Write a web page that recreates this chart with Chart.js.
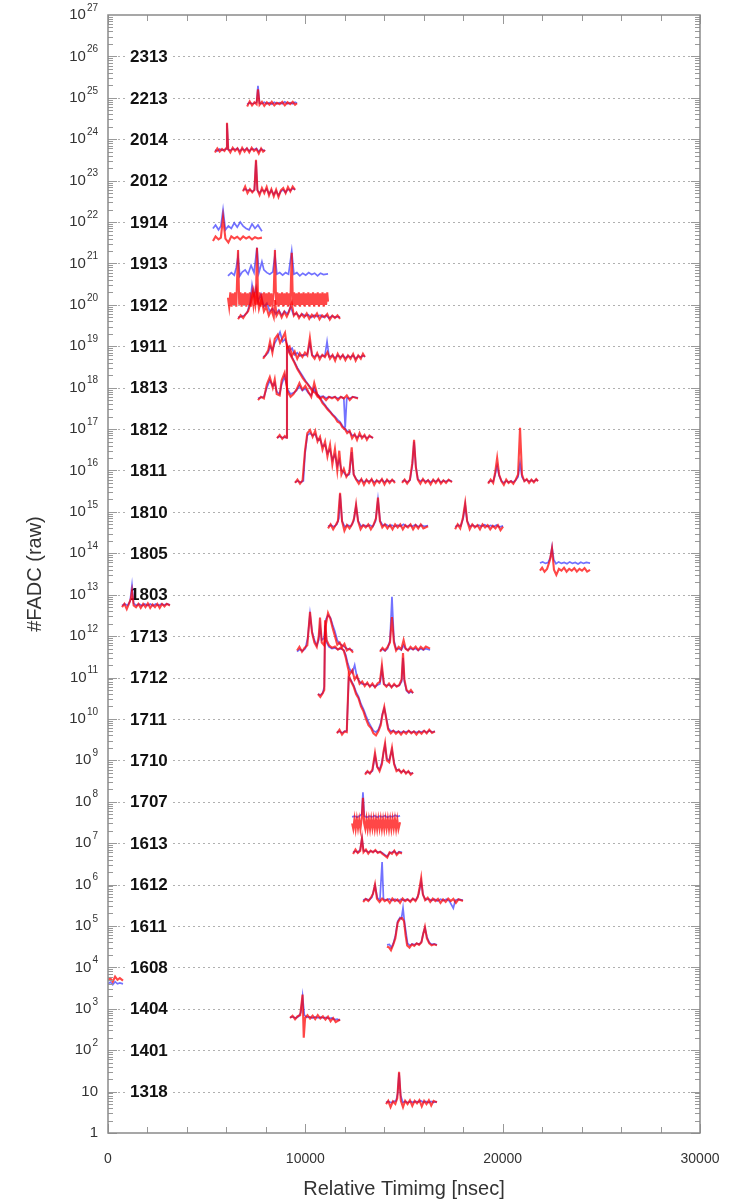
<!DOCTYPE html>
<html>
<head>
<meta charset="utf-8">
<title>FADC traces</title>
<script src="https://cdn.jsdelivr.net/npm/chart.js@4.4.0/dist/chart.umd.min.js"></script>
<style>
  html, body { margin: 0; padding: 0; background: #fff; }
  canvas { display: block; }
</style>
</head>
<body>
<canvas id="grafica" width="733" height="1203"></canvas>
<script>
// ── Datos ────────────────────────────────────────────────
const detectors = ['2313','2213','2014','2012','1914','1913','1912','1911','1813','1812','1811','1810','1805',
                   '1803','1713','1712','1711','1710','1707','1613','1612','1611','1608','1404','1401','1318'];
const decades   = [26,25,24,23,22,21,20,19,18,17,16,15,14,13,12,11,10,9,8,7,6,5,4,3,2,1];
const yPowers   = [0,1,2,3,4,5,6,7,8,9,10,11,12,13,14,15,16,17,18,19,20,21,22,23,24,25,26,27];
const xTicks    = [0,10000,20000,30000];

// each trace: [time ns, FADC / 10^decade of its detector]; null = gap
const red2213 = [[7050,0.62],[7180,0.82],[7300,0.66],[7420,0.78],[7530,0.7],[7600,1.6],[7680,0.68],[7800,0.8],[7920,0.64],[8050,0.78],[8180,0.68],[8300,0.8],[8430,0.66],[8560,0.76],[8700,0.7],[8830,0.8],[8960,0.66],[9100,0.78],[9230,0.7],[9360,0.8],[9480,0.68],[9580,0.74]];
const blue2213 = [[7050,0.7],[7180,0.76],[7300,0.72],[7420,0.74],[7530,0.78],[7600,1.95],[7680,0.74],[7800,0.72],[7920,0.78],[8050,0.72],[8180,0.76],[8300,0.7],[8430,0.78],[8560,0.72],[8700,0.76],[8830,0.72],[8960,0.8],[9100,0.72],[9230,0.76],[9360,0.72],[9480,0.78],[9580,0.74]];

const red2014 = [[5420,0.48],[5540,0.6],[5660,0.5],[5780,0.58],[5900,0.52],[5980,0.6],[6030,2.5],[6090,0.58],[6200,0.48],[6320,0.62],[6440,0.52],[6560,0.6],[6680,0.46],[6800,0.62],[6920,0.5],[7040,0.6],[7160,0.48],[7280,0.62],[7400,0.52],[7520,0.58],[7640,0.45],[7760,0.6],[7860,0.5],[7960,0.55]];
const blue2014 = [[5420,0.55],[5540,0.52],[5660,0.58],[5780,0.54],[5900,0.56],[5980,0.58],[6030,2.4],[6090,0.56],[6200,0.54],[6320,0.58],[6440,0.56],[6560,0.6],[6680,0.52],[6800,0.58],[6920,0.55],[7040,0.6],[7160,0.52],[7280,0.58],[7400,0.56],[7520,0.6],[7640,0.5],[7760,0.58],[7860,0.55],[7960,0.52]];

const red2012 = [[6840,0.55],[6950,0.72],[7070,0.5],[7190,0.62],[7310,0.52],[7420,0.6],[7500,3.2],[7570,0.6],[7680,0.45],[7800,0.66],[7920,0.5],[8040,0.7],[8160,0.44],[8280,0.62],[8400,0.42],[8520,0.6],[8640,0.4],[8760,0.58],[8880,0.66],[9000,0.5],[9120,0.7],[9240,0.55],[9360,0.72],[9480,0.6]];
const blue2012 = [[6840,0.6],[6950,0.62],[7070,0.58],[7190,0.6],[7310,0.55],[7420,0.6],[7500,3.0],[7570,0.58],[7680,0.5],[7800,0.6],[7920,0.55],[8040,0.62],[8160,0.48],[8280,0.58],[8400,0.46],[8520,0.56],[8640,0.44],[8760,0.55],[8880,0.6],[9000,0.52],[9120,0.62],[9240,0.58],[9360,0.65],[9480,0.6]];

const red1914 = [[5320,0.35],[5450,0.45],[5600,0.38],[5720,0.42],[5830,1.3],[5950,0.4],[6100,0.32],[6250,0.45],[6400,0.4],[6550,0.44],[6700,0.38],[6850,0.45],[7000,0.4],[7150,0.44],[7300,0.38],[7450,0.43],[7600,0.4],[7800,0.42]];
const blue1914 = [[5320,0.7],[5450,0.85],[5600,0.65],[5720,0.8],[5830,1.97],[5950,0.65],[6100,0.8],[6250,0.7],[6400,0.95],[6550,0.75],[6700,1.0],[6850,0.8],[7000,0.7],[7150,0.65],[7300,0.9],[7450,0.7],[7600,0.85],[7800,0.6]];

const red1913 = [[6080,0.15],[6140,0.09],[6200,0.2],[6260,0.09],[6320,0.19],[6380,0.1],[6440,0.2],[6500,0.09],[6590,2.1],[6650,0.1],[6710,0.2],[6770,0.09],[6830,0.19],[6890,0.1],[6950,0.2],[7010,0.09],[7070,0.19],[7130,0.1],[7190,0.2],[7250,0.09],[7310,0.18],[7370,0.1],[7430,0.2],[7490,0.1],[7550,2.4],[7610,0.1],[7670,0.2],[7730,0.09],[7790,0.19],[7850,0.1],[7910,0.2],[7970,0.09],[8030,0.19],[8090,0.1],[8150,0.2],[8210,0.09],[8270,0.19],[8330,0.1],[8400,0.2],[8460,2.1],[8520,0.1],[8580,0.2],[8640,0.09],[8700,0.19],[8760,0.1],[8820,0.2],[8880,0.09],[8940,0.19],[9000,0.1],[9060,0.2],[9120,0.09],[9180,0.19],[9240,0.1],[9310,1.8],[9370,0.1],[9430,0.2],[9490,0.09],[9550,0.19],[9610,0.1],[9670,0.2],[9730,0.09],[9790,0.19],[9850,0.1],[9910,0.2],[9970,0.09],[10030,0.19],[10090,0.1],[10150,0.2],[10210,0.09],[10270,0.19],[10330,0.1],[10390,0.2],[10450,0.09],[10510,0.19],[10570,0.1],[10630,0.2],[10690,0.09],[10750,0.19],[10810,0.1],[10870,0.2],[10930,0.09],[10990,0.19],[11050,0.1],[11110,0.2],[11150,0.12]];
const blue1913 = [[6080,0.5],[6250,0.6],[6400,0.52],[6500,0.8],[6590,1.5],[6680,0.5],[6800,0.62],[6950,0.7],[7100,0.55],[7250,0.9],[7400,0.6],[7550,2.4],[7650,0.6],[7800,1.1],[7900,0.7],[8050,0.6],[8200,0.55],[8350,0.62],[8460,1.6],[8560,0.55],[8700,0.6],[8850,0.52],[9000,0.6],[9150,0.55],[9310,2.0],[9420,0.55],[9570,0.6],[9720,0.5],[9870,0.58],[10020,0.52],[10170,0.6],[10320,0.54],[10470,0.58],[10620,0.5],[10770,0.58],[10920,0.54],[11150,0.56]];

const red1912 = [[6590,0.45],[6720,0.56],[6850,0.48],[6980,0.6],[7100,0.7],[7250,1.2],[7380,2.2],[7470,1.0],[7550,2.0],[7650,0.8],[7780,1.4],[7900,0.7],[8020,0.9],[8150,0.55],[8280,0.75],[8400,0.5],[8460,1.3],[8540,0.55],[8670,0.7],[8800,0.5],[8930,0.68],[9060,0.52],[9180,0.7],[9310,1.1],[9420,0.55],[9550,0.65],[9680,0.48],[9810,0.6],[9940,0.5],[10070,0.62],[10200,0.46],[10330,0.58],[10460,0.5],[10590,0.62],[10720,0.45],[10850,0.56],[10980,0.5],[11110,0.6],[11240,0.44],[11370,0.55],[11500,0.48],[11630,0.56],[11760,0.46]];
const blue1912 = [[6590,0.5],[6750,0.52],[6900,0.55],[7050,0.65],[7200,1.1],[7300,3.0],[7400,1.6],[7500,2.6],[7600,1.2],[7750,1.8],[7900,0.9],[8050,1.1],[8200,0.7],[8350,0.8],[8500,0.6],[8650,0.75],[8800,0.56],[8950,0.7],[9100,0.6],[9250,0.9],[9400,0.58],[9550,0.62],[9700,0.52],[9850,0.6],[10000,0.54],[10150,0.58],[10300,0.5],[10450,0.56],[10600,0.52],[10750,0.56],[10900,0.5],[11050,0.56],[11200,0.48],[11350,0.54],[11500,0.5],[11650,0.52],[11760,0.5]];

const red1911 = [[7860,0.5],[7990,0.62],[8120,0.8],[8210,1.3],[8330,0.7],[8450,1.5],[8600,1.9],[8720,1.2],[8850,1.6],[8970,2.1],[9080,0.9],[9200,1.0],[9330,0.6],[9460,0.75],[9590,0.5],[9720,0.68],[9850,0.55],[9980,0.7],[10100,0.6],[10230,1.6],[10340,0.6],[10470,0.5],[10600,0.68],[10730,0.48],[10860,0.62],[10990,0.55],[11120,0.72],[11250,0.5],[11380,0.62],[11510,0.45],[11640,0.66],[11770,0.5],[11900,0.62],[12030,0.46],[12160,0.6],[12290,0.5],[12420,0.65],[12550,0.45],[12680,0.6],[12810,0.5],[12920,0.66],[13020,0.55]];
const blue1911 = [[7860,0.55],[7990,0.6],[8120,0.7],[8210,1.0],[8330,0.8],[8450,1.2],[8600,1.6],[8717,2.2],[8850,1.3],[8970,1.5],[9080,1.1],[9200,0.8],[9330,0.9],[9460,0.62],[9590,0.7],[9720,0.58],[9850,0.62],[9980,0.6],[10100,0.65],[10230,1.2],[10340,0.62],[10470,0.56],[10600,0.62],[10730,0.55],[10860,0.6],[10990,0.58],[11100,1.3],[11200,0.56],[11380,0.6],[11510,0.52],[11640,0.6],[11770,0.55],[11900,0.6],[12030,0.52],[12160,0.58],[12290,0.55],[12420,0.6],[12550,0.5],[12680,0.58],[12810,0.55],[12920,0.6],[13020,0.56]];

const red1813 = [[7600,0.5],[7750,0.6],[7900,0.55],[8050,1.2],[8200,1.8],[8350,1.0],[8450,1.6],[8550,0.7],[8700,0.65],[8800,1.5],[8950,2.3],[9100,0.8],[9250,0.6],[9400,0.7],[9550,0.9],[9700,1.3],[9850,0.9],[10000,1.1],[10150,0.8],[10300,0.6],[10450,1.3],[10600,0.7],[10750,0.55],[10900,0.6],[11050,0.5],[11200,0.6],[11350,0.55],[11500,0.6],[11650,0.5],[11800,0.6],[11950,0.55],[12100,0.65],[12250,0.5],[12400,0.6],[12670,0.55]];
const blue1813 = [[7600,0.55],[7750,0.58],[7900,0.6],[8050,1.0],[8200,1.5],[8350,1.1],[8450,1.3],[8550,0.8],[8700,0.7],[8800,1.2],[8950,1.9],[9100,0.9],[9250,0.7],[9400,0.75],[9550,0.85],[9700,1.1],[9850,0.85],[10000,0.95],[10150,0.75],[10300,0.65],[10450,1.0],[10600,0.7],[10750,0.6],[10900,0.62],[11050,0.56],[11200,0.6],[11350,0.58],[11500,0.6],[11650,0.55],[11800,0.6],[11950,0.56],[12020,0.11],[12100,0.56],[12250,0.55],[12400,0.6],[12670,0.57]];

const red1812 = [[8565,0.6],[8700,0.72],[8830,0.58],[8960,0.68],[9040,0.62],[9070,100],[9180,70],[9300,55],[9450,40],[9600,28],[9731,22],[9870,17],[10000,14],[10120,12],[10237,10],[10370,8],[10500,7.5],[10620,6],[10744,5.5],[10870,4.2],[11000,3.6],[11120,3.0],[11251,2.6],[11370,2.2],[11500,1.9],[11630,1.5],[11758,1.4],[11880,1.1],[12000,1.0],[12120,0.8],[12250,0.9],[12370,0.6],[12500,0.75],[12620,0.55],[12750,0.8],[12870,0.6],[13000,0.72],[13120,0.55],[13250,0.7],[13430,0.6]];
const blue1812 = [[8565,0.62],[8700,0.66],[8830,0.62],[8960,0.64],[9040,0.62],[9070,90],[9180,75],[9300,58],[9450,42],[9600,30],[9731,24],[9870,19],[10000,15],[10120,12.5],[10237,10.5],[10370,9],[10500,8],[10620,6.5],[10744,5.8],[10870,4.6],[11000,3.8],[11120,3.2],[11251,2.7],[11370,2.3],[11500,2.0],[11630,1.7],[11758,1.5],[11880,1.2],[12000,1.05],[12120,0.9],[12250,0.85],[12370,0.7],[12500,0.72],[12620,0.62],[12750,0.7],[12870,0.65],[13000,0.68],[13120,0.6],[13250,0.66],[13430,0.62]];

const red1811 = [[9477,0.5],[9600,0.6],[9730,0.48],[9860,0.58],[9984,3],[10100,8],[10237,9.5],[10370,6.5],[10500,9],[10620,5],[10744,6.5],[10870,3.2],[11000,5],[11120,2.2],[11251,4.2],[11370,1.4],[11500,3.3],[11620,1.0],[11720,3.0],[11830,0.8],[11950,1.1],[12080,0.7],[12230,0.9],[12350,3.6],[12450,0.8],[12580,0.6],[12710,0.48],[12840,0.62],[12970,0.45],[13100,0.6],[13230,0.5],[13360,0.62],[13490,0.45],[13620,0.58],[13750,0.5],[13880,0.62],[14010,0.46],[14140,0.6],[14270,0.5],[14400,0.6],[14545,0.5],[14700,null],[14900,0.5],[15030,0.6],[15160,0.48],[15300,0.6],[15420,1.5],[15510,5.5],[15600,1.2],[15700,0.6],[15830,0.48],[15960,0.62],[16090,0.5],[16220,0.58],[16350,0.46],[16480,0.6],[16610,0.5],[16740,0.62],[16870,0.48],[17000,0.58],[17130,0.5],[17260,0.6],[17434,0.52],[18500,null],[19260,0.48],[19390,0.6],[19520,0.5],[19620,0.9],[19720,2.0],[19820,0.8],[19940,0.55],[20060,0.45],[20180,0.6],[20300,0.5],[20420,0.55],[20540,0.48],[20660,0.6],[20780,0.8],[20880,10.7],[20980,0.8],[21100,0.55],[21220,0.62],[21340,0.5],[21460,0.6],[21580,0.52],[21700,0.62],[21790,0.55]];
const blue1811 = [[9477,0.52],[9620,0.56],[9760,0.52],[9900,0.56],[9984,2.5],[10100,7],[10237,8],[10370,7],[10500,7.5],[10620,5.5],[10744,5.8],[10870,3.8],[11000,4.2],[11120,2.6],[11251,3.2],[11370,1.8],[11500,2.4],[11620,1.3],[11720,1.8],[11830,1.0],[11950,0.9],[12080,0.75],[12230,0.8],[12350,2.8],[12450,0.8],[12580,0.62],[12710,0.55],[12840,0.6],[12970,0.52],[13100,0.58],[13230,0.54],[13360,0.6],[13490,0.52],[13620,0.57],[13750,0.54],[13880,0.6],[14010,0.52],[14140,0.58],[14270,0.54],[14400,0.58],[14545,0.54],[14700,null],[14900,0.54],[15030,0.58],[15160,0.52],[15300,0.58],[15420,1.3],[15510,5.0],[15600,1.3],[15700,0.62],[15830,0.55],[15960,0.6],[16090,0.54],[16220,0.58],[16350,0.52],[16480,0.58],[16610,0.54],[16740,0.6],[16870,0.52],[17000,0.57],[17130,0.54],[17260,0.58],[17434,0.55],[18500,null],[19260,0.52],[19390,0.56],[19520,0.54],[19620,0.8],[19720,1.3],[19820,0.75],[19940,0.56],[20060,0.5],[20180,0.56],[20300,0.52],[20420,0.56],[20540,0.52],[20660,0.58],[20780,0.7],[20880,1.5],[20980,0.7],[21100,0.56],[21220,0.6],[21340,0.54],[21460,0.58],[21580,0.54],[21700,0.6],[21790,0.56]];

const red1810 = [[11150,0.4],[11280,0.5],[11410,0.38],[11540,0.48],[11650,0.6],[11760,2.9],[11860,0.6],[11980,0.35],[12110,0.48],[12240,0.4],[12370,0.5],[12470,0.7],[12570,1.5],[12670,0.6],[12800,0.38],[12930,0.48],[13060,0.42],[13190,0.5],[13320,0.38],[13450,0.48],[13580,0.7],[13680,2.2],[13780,0.6],[13900,0.42],[14030,0.5],[14160,0.4],[14290,0.48],[14420,0.38],[14550,0.5],[14680,0.42],[14810,0.5],[14940,0.38],[15070,0.48],[15200,0.42],[15330,0.5],[15460,0.38],[15590,0.48],[15720,0.4],[15850,0.5],[15980,0.4],[16220,0.45],[16900,null],[17590,0.38],[17720,0.5],[17850,0.4],[17980,0.7],[18100,1.65],[18200,0.6],[18330,0.38],[18460,0.5],[18590,0.42],[18720,0.48],[18850,0.38],[18980,0.5],[19110,0.42],[19240,0.48],[19370,0.38],[19500,0.46],[19630,0.4],[19760,0.48],[19890,0.36],[20020,0.44]];
const blue1810 = [[11150,0.45],[11300,0.48],[11450,0.44],[11600,0.5],[11700,0.7],[11760,2.7],[11860,0.6],[12000,0.44],[12150,0.48],[12300,0.45],[12450,0.6],[12570,1.4],[12680,0.6],[12820,0.45],[12970,0.48],[13120,0.45],[13270,0.48],[13420,0.44],[13560,0.6],[13680,2.0],[13790,0.6],[13930,0.47],[14080,0.5],[14230,0.45],[14380,0.48],[14530,0.44],[14680,0.48],[14830,0.45],[14980,0.5],[15130,0.44],[15280,0.48],[15430,0.45],[15580,0.49],[15730,0.44],[15880,0.48],[16020,0.45],[16220,0.47],[16900,null],[17590,0.44],[17740,0.48],[17880,0.46],[18000,0.7],[18100,1.5],[18200,0.6],[18340,0.45],[18490,0.48],[18640,0.44],[18790,0.48],[18940,0.45],[19090,0.49],[19240,0.44],[19390,0.47],[19540,0.44],[19690,0.48],[19840,0.43],[20020,0.46]];

const red1805 = [[21890,0.38],[22000,0.45],[22120,0.36],[22250,0.42],[22400,0.7],[22500,1.3],[22600,0.4],[22720,0.3],[22850,0.42],[22980,0.38],[23110,0.45],[23240,0.36],[23370,0.42],[23500,0.38],[23630,0.44],[23760,0.36],[23890,0.42],[24020,0.38],[24150,0.44],[24280,0.36],[24430,0.4]];
const blue1805 = [[21890,0.58],[22030,0.62],[22170,0.57],[22300,0.6],[22420,0.8],[22500,1.43],[22590,0.7],[22700,0.56],[22840,0.62],[22980,0.57],[23120,0.6],[23260,0.56],[23400,0.62],[23540,0.57],[23680,0.6],[23820,0.55],[23960,0.61],[24100,0.57],[24240,0.6],[24430,0.58]];

const red1803 = [[710,0.5],[830,0.6],[950,0.45],[1070,0.62],[1160,0.8],[1216,1.2],[1300,0.55],[1420,0.5],[1540,0.6],[1660,0.48],[1780,0.6],[1900,0.5],[2020,0.62],[2140,0.48],[2260,0.58],[2380,0.5],[2500,0.6],[2620,0.48],[2740,0.6],[2860,0.52],[2980,0.6],[3140,0.55]];
const blue1803 = [[710,0.55],[850,0.6],[990,0.55],[1120,0.7],[1216,1.7],[1300,0.62],[1440,0.55],[1580,0.6],[1720,0.54],[1860,0.6],[2000,0.55],[2140,0.6],[2280,0.54],[2420,0.6],[2560,0.55],[2700,0.6],[2840,0.56],[2980,0.6],[3140,0.57]];

const red1713 = [[9580,0.45],[9700,0.55],[9830,0.42],[9960,0.52],[10100,0.6],[10237,3.85],[10340,1.2],[10460,0.7],[10580,0.55],[10680,1.0],[10744,2.8],[10830,0.7],[10950,0.6],[11050,2.0],[11150,3.6],[11270,2.6],[11380,1.6],[11500,1.0],[11620,0.62],[11740,0.7],[11860,0.55],[11980,0.65],[12100,0.45],[12250,0.5],[12420,0.4],[13100,null],[13785,0.42],[13910,0.52],[14040,0.45],[14170,0.55],[14290,0.7],[14390,2.9],[14490,0.7],[14600,0.45],[14730,0.55],[14860,0.48],[14980,0.8],[15080,0.5],[15200,0.45],[15330,0.55],[15460,0.48],[15590,0.56],[15720,0.46],[15850,0.55],[15980,0.48],[16110,0.56],[16320,0.5]];
const blue1713 = [[9580,0.42],[9720,0.48],[9860,0.44],[10000,0.5],[10120,0.9],[10237,3.4],[10340,1.3],[10460,0.8],[10580,0.6],[10680,0.8],[10744,1.8],[10830,0.8],[10950,0.9],[11050,2.6],[11150,3.2],[11270,2.8],[11380,1.9],[11500,1.3],[11620,0.8],[11740,0.65],[11860,0.6],[11980,0.55],[12100,0.5],[12250,0.48],[12420,0.45],[13100,null],[13785,0.45],[13910,0.48],[14040,0.44],[14170,0.5],[14290,0.8],[14390,8.9],[14490,0.8],[14600,0.48],[14730,0.5],[14860,0.46],[14980,0.6],[15080,0.5],[15200,0.46],[15330,0.5],[15460,0.47],[15590,0.5],[15720,0.45],[15850,0.5],[15980,0.46],[16110,0.5],[16320,0.46]];

const red1712 = [[10640,0.4],[10760,0.34],[10880,0.42],[10960,0.5],[11000,24],[11080,8],[11200,6],[11350,5.2],[11500,5.6],[11650,4.7],[11800,5.3],[11950,4.4],[12050,3.0],[12150,1.8],[12250,1.2],[12380,1.5],[12500,0.9],[12620,1.1],[12750,0.7],[12880,0.8],[13010,0.62],[13140,0.75],[13270,0.6],[13400,0.72],[13530,0.58],[13660,0.72],[13780,0.8],[13880,2.0],[13980,0.7],[14110,0.6],[14240,0.72],[14370,0.58],[14500,0.7],[14630,0.6],[14760,0.66],[14880,0.9],[14950,3.9],[15020,0.9],[15130,0.5],[15250,0.44],[15350,0.5],[15460,0.42]];
const blue1712 = [[10640,0.4],[10760,0.38],[10880,0.42],[10960,0.6],[11000,18],[11080,7],[11200,5.5],[11350,5],[11500,5.2],[11650,4.8],[11800,5],[11950,4.6],[12050,3.5],[12150,2.2],[12250,1.6],[12380,1.3],[12500,2.0],[12620,1.0],[12750,0.8],[12880,0.7],[13010,0.68],[13140,0.7],[13270,0.62],[13400,0.66],[13530,0.6],[13660,0.66],[13780,0.7],[13880,1.6],[13980,0.7],[14110,0.64],[14240,0.66],[14370,0.6],[14500,0.66],[14630,0.62],[14760,0.64],[14880,0.8],[14950,3.0],[15020,0.8],[15130,0.48],[15250,0.42],[15350,0.46],[15460,0.42]];

const red1711 = [[11600,0.45],[11730,0.55],[11860,0.42],[11990,0.5],[12100,0.48],[12200,11.5],[12320,8],[12450,6],[12570,4],[12700,3.1],[12820,2],[12950,1.5],[13070,1.0],[13200,0.71],[13330,0.6],[13450,0.45],[13580,0.4],[13700,0.5],[13820,0.7],[13900,1.2],[14000,1.95],[14100,1.0],[14200,0.55],[14330,0.45],[14460,0.52],[14590,0.44],[14720,0.5],[14850,0.42],[14980,0.5],[15110,0.44],[15240,0.52],[15370,0.45],[15500,0.5],[15630,0.42],[15760,0.5],[15890,0.44],[16020,0.52],[16150,0.45],[16280,0.55],[16420,0.46],[16570,0.5]];
const blue1711 = [[11600,0.48],[11730,0.5],[11860,0.46],[11990,0.5],[12100,0.52],[12200,10],[12320,8.5],[12450,6.5],[12570,4.5],[12700,3.4],[12820,2.3],[12950,1.7],[13070,1.2],[13200,0.85],[13330,0.65],[13450,0.52],[13580,0.48],[13700,0.55],[13820,0.8],[13900,1.3],[14000,1.8],[14100,1.1],[14200,0.6],[14330,0.5],[14460,0.52],[14590,0.48],[14720,0.5],[14850,0.47],[14980,0.5],[15110,0.48],[15240,0.51],[15370,0.47],[15500,0.5],[15630,0.47],[15760,0.5],[15890,0.48],[16020,0.51],[16150,0.47],[16280,0.52],[16420,0.48],[16570,0.5]];

const red1710 = [[13025,0.45],[13150,0.55],[13270,0.48],[13400,0.6],[13530,1.5],[13640,0.7],[13760,0.55],[13880,0.8],[13960,1.6],[14040,2.6],[14130,1.0],[14250,0.9],[14390,2.0],[14500,0.8],[14620,0.55],[14740,0.6],[14860,0.5],[14980,0.58],[15100,0.48],[15220,0.55],[15340,0.45],[15460,0.5]];
const blue1710 = [[13025,0.5],[13150,0.52],[13270,0.5],[13400,0.55],[13530,1.3],[13640,0.7],[13760,0.6],[13880,0.9],[13960,1.5],[14040,2.3],[14130,1.1],[14250,1.0],[14390,1.8],[14500,0.85],[14620,0.6],[14740,0.58],[14860,0.52],[14980,0.56],[15100,0.5],[15220,0.53],[15340,0.48],[15460,0.5]];

const red1707 = [[12370,0.3],[12430,0.22],[12490,0.38],[12550,0.22],[12610,0.38],[12670,0.23],[12730,0.37],[12790,0.22],[12860,0.4],[12920,1.24],[12980,0.3],[13040,0.22],[13100,0.38],[13160,0.22],[13220,0.37],[13280,0.22],[13340,0.38],[13400,0.23],[13460,0.38],[13520,0.22],[13580,0.37],[13640,0.22],[13700,0.38],[13760,0.23],[13820,0.38],[13880,0.22],[13940,0.37],[14000,0.22],[14060,0.38],[14120,0.23],[14180,0.38],[14240,0.22],[14300,0.37],[14360,0.22],[14420,0.38],[14480,0.23],[14540,0.38],[14600,0.22],[14660,0.37],[14720,0.22],[14800,0.32]];
const blue1707 = [[12370,0.43],[12500,0.45],[12630,0.42],[12760,0.46],[12860,0.5],[12920,1.7],[12990,0.45],[13120,0.42],[13250,0.45],[13380,0.43],[13510,0.46],[13640,0.42],[13770,0.45],[13900,0.43],[14030,0.46],[14160,0.42],[14290,0.45],[14420,0.43],[14550,0.47],[14680,0.44],[14800,0.46]];

const red1613 = [[12420,0.55],[12540,0.7],[12660,0.58],[12780,0.65],[12870,1.33],[12950,0.6],[13070,0.7],[13190,0.56],[13310,0.66],[13430,0.6],[13550,0.68],[13670,0.58],[13790,0.62],[13910,0.55],[14030,0.5],[14150,0.45],[14270,0.6],[14390,0.55],[14510,0.66],[14630,0.52],[14750,0.6],[14900,0.56]];
const blue1613 = [[12420,0.6],[12540,0.64],[12660,0.6],[12780,0.7],[12870,1.3],[12950,0.65],[13070,0.66],[13190,0.6],[13310,0.64],[13430,0.62],[13550,0.65],[13670,0.6],[13790,0.62],[13910,0.58],[14030,0.52],[14150,0.48],[14270,0.58],[14390,0.6],[14510,0.64],[14630,0.56],[14750,0.62],[14900,0.6]];

const red1612 = [[12930,0.38],[13060,0.45],[13190,0.4],[13320,0.48],[13430,0.6],[13530,1.0],[13630,0.45],[13760,0.38],[13890,0.46],[14020,0.4],[14150,0.44],[14280,0.36],[14410,0.46],[14540,0.4],[14670,0.44],[14800,0.36],[14930,0.46],[15060,0.4],[15190,0.44],[15320,0.38],[15450,0.46],[15580,0.4],[15700,0.5],[15800,0.9],[15870,1.45],[15950,0.6],[16070,0.42],[16200,0.48],[16330,0.38],[16460,0.46],[16590,0.4],[16720,0.45],[16850,0.36],[16980,0.44],[17110,0.38],[17240,0.46],[17370,0.4],[17500,0.45],[17630,0.36],[17760,0.44],[17990,0.4]];
const blue1612 = [[12930,0.42],[13080,0.45],[13230,0.42],[13380,0.5],[13530,0.95],[13650,0.48],[13780,0.42],[13890,3.5],[13960,0.45],[14100,0.42],[14250,0.45],[14400,0.41],[14550,0.44],[14700,0.4],[14850,0.44],[15000,0.41],[15150,0.44],[15300,0.4],[15450,0.45],[15600,0.42],[15750,0.6],[15870,1.2],[15970,0.55],[16100,0.43],[16250,0.45],[16400,0.41],[16550,0.44],[16700,0.4],[16850,0.44],[17000,0.41],[17150,0.44],[17300,0.4],[17500,0.27],[17600,0.42],[17750,0.44],[17990,0.42]];

const red1611 = [[14140,0.32],[14250,0.3],[14340,0.26],[14450,0.35],[14560,0.5],[14680,1.2],[14800,1.5],[14900,1.56],[15000,1.3],[15080,0.6],[15160,0.34],[15280,0.3],[15400,0.36],[15520,0.33],[15640,0.38],[15760,0.35],[15880,0.4],[15960,0.6],[16060,0.95],[16160,0.5],[16280,0.38],[16400,0.34],[16530,0.36],[16670,0.34]];
const blue1611 = [[14140,0.35],[14260,0.36],[14360,0.3],[14460,0.38],[14570,0.6],[14680,1.3],[14800,1.6],[14870,1.5],[14950,2.7],[15020,1.3],[15100,0.7],[15180,0.38],[15300,0.34],[15420,0.37],[15540,0.35],[15660,0.38],[15780,0.36],[15890,0.42],[15970,0.65],[16060,0.9],[16160,0.55],[16280,0.4],[16400,0.36],[16530,0.37],[16670,0.35]];

const red1608 = [[0,0.5],[120,0.55],[240,0.45],[360,0.6],[480,0.5],[600,0.55],[760,0.48]];
const blue1608 = [[0,0.4],[120,0.44],[240,0.38],[360,0.45],[480,0.4],[600,0.42],[760,0.4]];

const red1404 = [[9224,0.6],[9350,0.68],[9480,0.56],[9610,0.66],[9740,0.7],[9860,2.2],[9920,0.2],[9990,0.6],[10110,0.7],[10240,0.58],[10370,0.68],[10500,0.56],[10630,0.7],[10760,0.58],[10890,0.66],[11020,0.55],[11150,0.65],[11280,0.5],[11410,0.6],[11540,0.48],[11760,0.55]];
const blue1404 = [[9224,0.62],[9370,0.64],[9510,0.6],[9650,0.65],[9770,0.8],[9860,2.0],[9950,0.7],[10080,0.62],[10220,0.64],[10360,0.6],[10500,0.64],[10640,0.6],[10780,0.63],[10920,0.6],[11060,0.62],[11200,0.58],[11340,0.6],[11480,0.55],[11620,0.56],[11760,0.52]];

const red1318 = [[14090,0.5],[14200,0.6],[14320,0.42],[14440,0.58],[14560,0.5],[14660,0.7],[14750,3.0],[14840,0.6],[14950,0.42],[15060,0.6],[15180,0.5],[15300,0.62],[15420,0.45],[15540,0.6],[15660,0.52],[15780,0.62],[15900,0.44],[16020,0.6],[16140,0.5],[16260,0.62],[16380,0.46],[16500,0.6],[16670,0.55]];
const blue1318 = [[14090,0.55],[14220,0.58],[14350,0.54],[14480,0.58],[14600,0.6],[14680,0.9],[14750,2.8],[14830,0.8],[14940,0.55],[15070,0.58],[15200,0.54],[15330,0.58],[15460,0.55],[15590,0.58],[15720,0.56],[15850,0.6],[15980,0.55],[16110,0.58],[16240,0.54],[16370,0.58],[16500,0.55],[16670,0.57]];

const traces = [
  ['2213', red2213, blue2213], ['2014', red2014, blue2014], ['2012', red2012, blue2012],
  ['1914', red1914, blue1914], ['1913', red1913, blue1913], ['1912', red1912, blue1912],
  ['1911', red1911, blue1911], ['1813', red1813, blue1813], ['1812', red1812, blue1812],
  ['1811', red1811, blue1811], ['1810', red1810, blue1810], ['1805', red1805, blue1805],
  ['1803', red1803, blue1803], ['1713', red1713, blue1713], ['1712', red1712, blue1712],
  ['1711', red1711, blue1711], ['1710', red1710, blue1710], ['1707', red1707, blue1707],
  ['1613', red1613, blue1613], ['1612', red1612, blue1612], ['1611', red1611, blue1611],
  ['1608', red1608, blue1608], ['1404', red1404, blue1404], ['1318', red1318, blue1318]
];

// ── Estilos ──────────────────────────────────────────────
const FONT = '"Liberation Sans", Arial, Helvetica, sans-serif';
const RED = 'rgba(255,0,0,0.72)';
const BLUE = 'rgba(20,20,255,0.6)';

// ── Datasets ─────────────────────────────────────────────
const datasets = [];
traces.forEach(([id, red, blue]) => {
  const dec = decades[detectors.indexOf(id)];
  const toPts = arr => arr.map(([x, v]) => ({ x, y: v === null ? null : v * Math.pow(10, dec) }));
  datasets.push({ label: id + ' red', data: toPts(red), borderColor: RED, borderWidth: 2.1, order: 0 });
  datasets.push({ label: id + ' blue', data: toPts(blue), borderColor: BLUE, borderWidth: 1.7, order: 1 });
});

// ── Marco, rejilla punteada, etiquetas ───────────────────
const marco = {
  id: 'marco',
  beforeDatasetsDraw(chart) {
    const { ctx, chartArea: a, scales: { y } } = chart;
    ctx.save();
    ctx.strokeStyle = '#b0b0b0';
    ctx.lineWidth = 1;
    ctx.setLineDash([2, 3]);
    decades.forEach(d => {
      const py = Math.round(y.getPixelForValue(Math.pow(10, d))) + 0.5;
      ctx.beginPath(); ctx.moveTo(a.left, py); ctx.lineTo(a.right, py); ctx.stroke();
    });
    ctx.setLineDash([]);
    ctx.font = 'bold 17px ' + FONT;
    ctx.textBaseline = 'middle';
    detectors.forEach((name, i) => {
      const py = y.getPixelForValue(Math.pow(10, decades[i]));
      const w = ctx.measureText(name).width;
      ctx.fillStyle = '#fff';
      ctx.fillRect(a.left + 19, py - 7, w + 8, 14);
      ctx.fillStyle = '#111';
      ctx.fillText(name, a.left + 22, py + 1);
    });
    ctx.restore();
  },
  afterDatasetsDraw(chart) {
    const { ctx, chartArea: a, scales: { x, y } } = chart;
    ctx.save();
    ctx.strokeStyle = '#999';
    ctx.lineWidth = 1;
    ctx.beginPath();
    for (let p = 0; p < 27; p++) {
      for (let m = 1; m <= 9; m++) {
        const py = Math.round(y.getPixelForValue(m * Math.pow(10, p))) + 0.5;
        const len = m === 1 ? 9 : 5;
        ctx.moveTo(a.left, py); ctx.lineTo(a.left + len, py);
        ctx.moveTo(a.right, py); ctx.lineTo(a.right - len, py);
      }
    }
    for (let v = 0; v <= 30000; v += 2000) {
      const px = Math.round(x.getPixelForValue(v)) + 0.5;
      const len = v % 10000 === 0 ? 9 : 6;
      ctx.moveTo(px, a.bottom); ctx.lineTo(px, a.bottom - len);
      ctx.moveTo(px, a.top); ctx.lineTo(px, a.top + len);
    }
    ctx.stroke();
    ctx.strokeStyle = '#8a8a8a';
    ctx.lineWidth = 1.5;
    ctx.strokeRect(a.left, a.top, a.right - a.left, a.bottom - a.top);

    // y tick labels: 10 with raised exponent
    ctx.fillStyle = '#333';
    ctx.textBaseline = 'middle';
    const xr = a.left - 10;
    yPowers.forEach(p => {
      const py = y.getPixelForValue(Math.pow(10, p));
      ctx.textAlign = 'right';
      if (p <= 1) {
        ctx.font = '15px ' + FONT;
        ctx.fillText(p === 0 ? '1' : '10', xr, py);
        return;
      }
      const e = String(p);
      ctx.font = '10px ' + FONT;
      const ew = ctx.measureText(e).width;
      ctx.textAlign = 'left';
      ctx.fillText(e, xr - ew, py - 7);
      ctx.textAlign = 'right';
      ctx.font = '15px ' + FONT;
      ctx.fillText('10', xr - ew - 1, py);
    });
    ctx.restore();
  }
};

// ── Grafica ──────────────────────────────────────────────
new Chart(document.getElementById('grafica'), {
  type: 'line',
  data: { datasets },
  options: {
    responsive: false,
    animation: false,
    spanGaps: false,
    elements: { point: { radius: 0 }, line: { tension: 0 } },
    layout: { padding: { top: 15, right: 33, bottom: 0, left: 0 } },
    plugins: { legend: { display: false }, tooltip: { enabled: false } },
    scales: {
      x: {
        type: 'linear', min: 0, max: 30000,
        afterBuildTicks: s => { s.ticks = xTicks.map(v => ({ value: v })); },
        ticks: { callback: v => String(v), padding: 18, maxRotation: 0, color: '#333',
                 font: { family: FONT, size: 14 } },
        grid: { display: false, drawTicks: false },
        border: { display: false },
        title: { display: true, text: 'Relative Timimg [nsec]', color: '#333',
                 font: { family: FONT, size: 20 }, padding: { top: 0, bottom: 2 } },
        afterFit: s => { s.height = 70; s.paddingRight = 0; s.paddingLeft = 0; }
      },
      y: {
        type: 'logarithmic', min: 1, max: 1e27,
        afterBuildTicks: s => { s.ticks = yPowers.map(p => ({ value: Math.pow(10, p) })); },
        ticks: { display: false },
        grid: { display: false, drawTicks: false },
        border: { display: false },
        title: { display: true, text: '#FADC (raw)', color: '#333',
                 font: { family: FONT, size: 20 }, padding: { top: 23, bottom: 0 } },
        afterFit: s => { s.width = 108; }
      }
    }
  },
  plugins: [marco]
});
</script>
</body>
</html>
